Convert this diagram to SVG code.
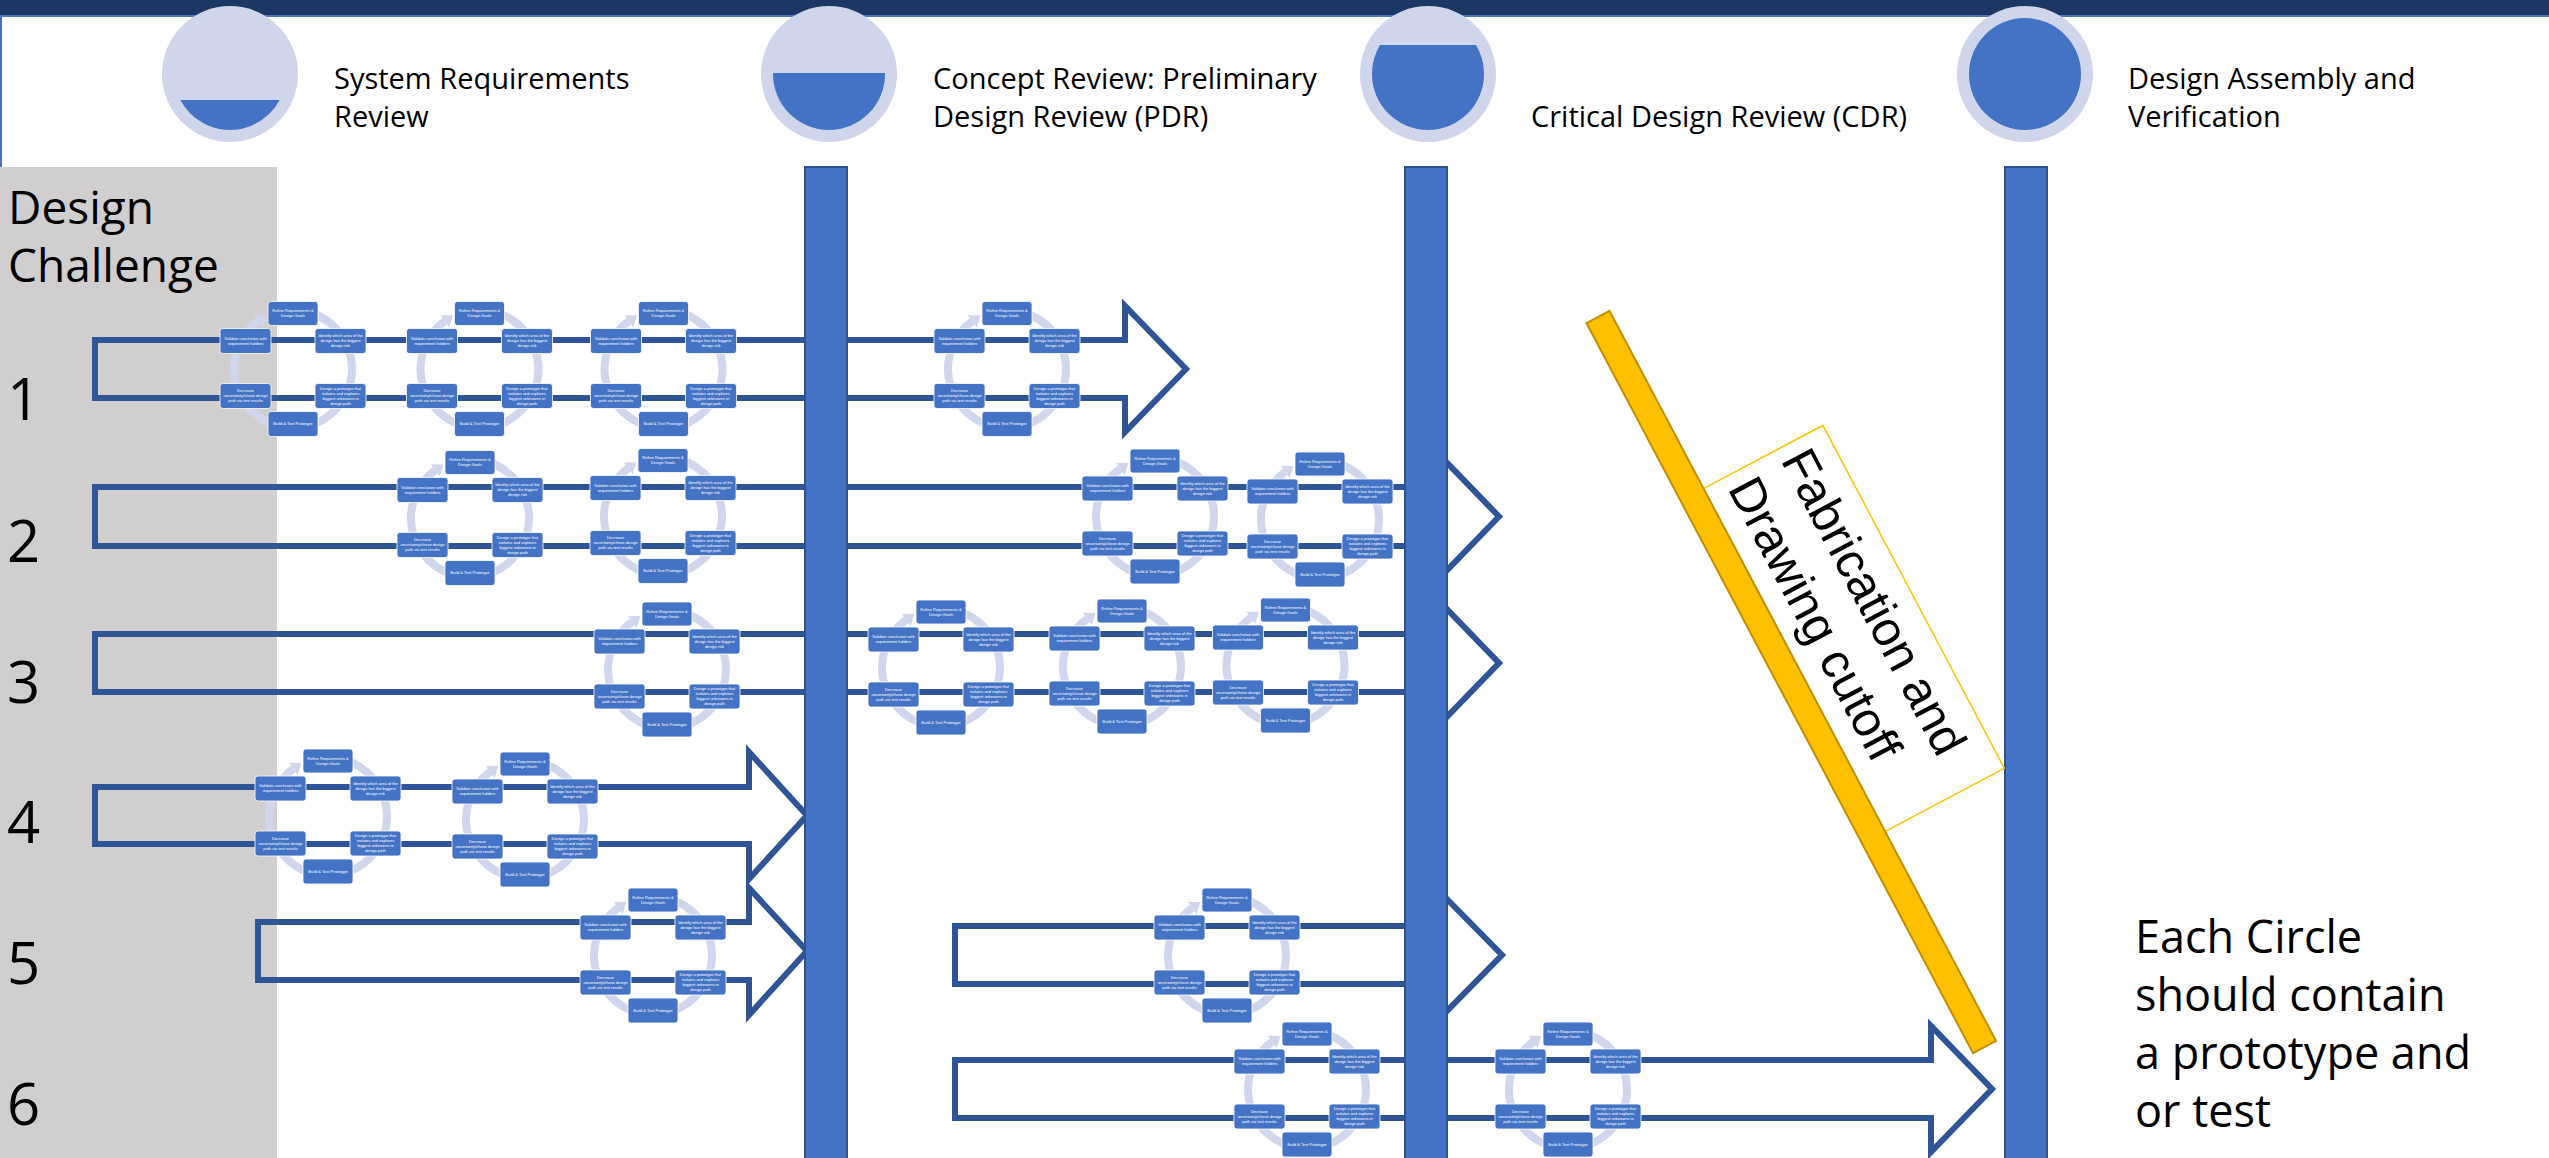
<svg xmlns="http://www.w3.org/2000/svg" xmlns:xlink="http://www.w3.org/1999/xlink" width="2549" height="1158" viewBox="0 0 2549 1158">
  <style>
    .lbl { font-family: "Open Sans", "Noto Sans", "Liberation Sans", sans-serif; fill: #000; font-weight: 400; }
    .hdr { font-size: 29px; }
    .big { font-size: 46px; }
    .num { font-size: 58px; }
    .note { font-size: 45px; }
    .flow { fill: none; stroke: #2f5597; stroke-width: 6; stroke-linejoin: miter; }
    .gate { fill: #4472c4; stroke: #2f528f; stroke-width: 2; }
    .ring { fill: none; stroke: #d0d6eb; stroke-width: 8; }
    .ringhead { fill: #d0d6eb; }
    .box { fill: #4472c4; stroke: #ffffff; stroke-width: 0.8; }
    .bt { font-family: "Liberation Sans", Arial, sans-serif; font-size: 4px; fill: #ffffff; text-anchor: middle; }
    .ms-outer { fill: #cfd5ea; }
    .ms-inner { fill: #4472c4; }
  </style>
  <defs>
    <!-- one design iteration loop: ring with six steps -->
    <g id="cycle">
      <path class="ring" d="M -8.2 -58.4 A 59 59 0 1 1 -34.7 -47.7"/>
      <polygon class="ringhead" points="-39.1,-53.8 -30.3,-41.6 -26.6,-53.6"/>
      <rect class="box" x="-25" y="-67.5" width="50" height="24" rx="3"/>
      <text class="bt"><tspan x="0" y="-56.6">Refine Requirements &amp;</tspan><tspan x="0" y="-51.6">Design Goals</tspan></text>
      <rect class="box" x="22" y="-40.5" width="51" height="25" rx="3"/>
      <text class="bt"><tspan x="47.5" y="-31.6">Identify which area of the</tspan><tspan x="47.5" y="-26.6">design has the biggest</tspan><tspan x="47.5" y="-21.6">design risk</tspan></text>
      <rect class="box" x="22" y="14.5" width="51" height="25" rx="3"/>
      <text class="bt"><tspan x="47.5" y="20.9">Design a prototype that</tspan><tspan x="47.5" y="25.9">isolates and explores</tspan><tspan x="47.5" y="30.9">biggest unknowns in</tspan><tspan x="47.5" y="35.9">design path</tspan></text>
      <rect class="box" x="-25" y="42.5" width="50" height="25" rx="3"/>
      <text class="bt"><tspan x="0" y="56.4">Build &amp; Test Prototype</tspan></text>
      <rect class="box" x="-73" y="14.5" width="51" height="25" rx="3"/>
      <text class="bt"><tspan x="-47.5" y="23.4">Decrease</tspan><tspan x="-47.5" y="28.4">uncertainty/chose design</tspan><tspan x="-47.5" y="33.4">path via test results</tspan></text>
      <rect class="box" x="-73" y="-40.5" width="51" height="25" rx="3"/>
      <text class="bt"><tspan x="-47.5" y="-29.1">Validate conclusion with</tspan><tspan x="-47.5" y="-24.1">requirement holders</tspan></text>
    </g>
    <clipPath id="fill1"><rect x="150" y="100" width="160" height="60"/></clipPath>
    <clipPath id="fill2"><rect x="750" y="73" width="160" height="90"/></clipPath>
    <clipPath id="fill3"><rect x="1350" y="45" width="160" height="120"/></clipPath>
  </defs>

  <rect x="0" y="0" width="2549" height="1158" fill="#ffffff"/>

  <!-- top band -->
  <rect x="0" y="0" width="2549" height="15" fill="#1c3763"/>
  <rect x="0" y="15" width="2549" height="2" fill="#4f76bd"/>
  <rect x="0" y="15" width="2" height="152" fill="#4472c4"/>

  <!-- left label column -->
  <g id="challenge-column">
    <rect x="0" y="167" width="277" height="991" fill="#d0cece"/>
    <text class="lbl big" x="8" y="224">Design</text>
    <text class="lbl big" x="8" y="282">Challenge</text>
    <text class="lbl num" x="7" y="420">1</text>
    <text class="lbl num" x="7" y="562">2</text>
    <text class="lbl num" x="7" y="703">3</text>
    <text class="lbl num" x="7" y="843">4</text>
    <text class="lbl num" x="7" y="984">5</text>
    <text class="lbl num" x="7" y="1125">6</text>
  </g>

  <!-- progress arrows per design challenge -->
  <g id="connectors">
    <path id="flow-1" class="flow" d="M 1125 340 H 95 V 398 H 1125 V 432 L 1186 369 L 1125 306 Z"/>
    <path id="flow-2" class="flow" d="M 1438 487 H 95 V 546 H 1438 V 579.5 L 1499 516.5 L 1438 453.5 Z"/>
    <path id="flow-3" class="flow" d="M 1438 634 H 95 V 692 H 1438 V 726 L 1499 663 L 1438 600 Z"/>
    <path id="flow-4" class="flow" d="M 749 787 H 95 V 844 H 749 V 879 L 807 815.5 L 749 752 Z"/>
    <path id="flow-5a" class="flow" d="M 749 922 H 258 V 980 H 749 V 1015 L 807 951 L 749 888 Z"/>
    <path id="flow-5b" class="flow" d="M 1440 926 H 955 V 984 H 1440 V 1018 L 1502 955 L 1440 892 Z"/>
    <path id="flow-6" class="flow" d="M 1931 1060 H 955 V 1118 H 1931 V 1152 L 1992 1089 L 1931 1026 Z"/>
  </g>

  <!-- iteration loops -->
  <g id="loop-1a" transform="translate(293,369)"><use href="#cycle"/></g>
  <g id="loop-1b" transform="translate(479.5,369)"><use href="#cycle"/></g>
  <g id="loop-1c" transform="translate(663.5,369)"><use href="#cycle"/></g>
  <g id="loop-1d" transform="translate(1007,369)"><use href="#cycle"/></g>
  <g id="loop-2a" transform="translate(470,518)"><use href="#cycle"/></g>
  <g id="loop-2b" transform="translate(663,516)"><use href="#cycle"/></g>
  <g id="loop-2c" transform="translate(1155,516.5)"><use href="#cycle"/></g>
  <g id="loop-2d" transform="translate(1320,519.5)"><use href="#cycle"/></g>
  <g id="loop-3a" transform="translate(667,669.5)"><use href="#cycle"/></g>
  <g id="loop-3b" transform="translate(941,667.5)"><use href="#cycle"/></g>
  <g id="loop-3c" transform="translate(1122,666.5)"><use href="#cycle"/></g>
  <g id="loop-3d" transform="translate(1285.5,665.5)"><use href="#cycle"/></g>
  <g id="loop-4a" transform="translate(328,816.5)"><use href="#cycle"/></g>
  <g id="loop-4b" transform="translate(525,819.5)"><use href="#cycle"/></g>
  <g id="loop-5a" transform="translate(653,955.5)"><use href="#cycle"/></g>
  <g id="loop-5b" transform="translate(1227,955.5)"><use href="#cycle"/></g>
  <g id="loop-6a" transform="translate(1307,1089.5)"><use href="#cycle"/></g>
  <g id="loop-6b" transform="translate(1568,1089.5)"><use href="#cycle"/></g>

  <!-- review gates -->
  <rect id="gate-pdr" class="gate" x="805" y="167" width="42" height="1000"/>
  <rect id="gate-cdr" class="gate" x="1405" y="167" width="42" height="1000"/>
  <rect id="gate-final" class="gate" x="2005" y="167" width="42" height="1000"/>

  <!-- fabrication / drawing cutoff -->
  <g id="cutoff" transform="translate(1598,317) rotate(62.1)">
    <rect x="201" y="-148" width="388" height="135" fill="#ffffff" stroke="#ffc000" stroke-width="1.5"/>
    <rect x="0" y="-13" width="826" height="26" fill="#ffc000" stroke="#bf9000" stroke-width="2"/>
    <text font-family="Liberation Sans, Arial, sans-serif" font-size="49" fill="#000">
      <tspan x="212" y="-94">Fabrication and</tspan>
      <tspan x="212" y="-34">Drawing cutoff</tspan>
    </text>
  </g>

  <!-- milestones -->
  <g id="ms-srr">
    <circle class="ms-outer" cx="230" cy="74" r="68"/>
    <circle class="ms-inner" cx="230" cy="74" r="56" clip-path="url(#fill1)"/>
    <text class="lbl hdr" x="334" y="89">System Requirements</text>
    <text class="lbl hdr" x="334" y="127">Review</text>
  </g>
  <g id="ms-pdr">
    <circle class="ms-outer" cx="829" cy="74" r="68"/>
    <circle class="ms-inner" cx="829" cy="74" r="56" clip-path="url(#fill2)"/>
    <text class="lbl hdr" x="933" y="89">Concept Review: Preliminary</text>
    <text class="lbl hdr" x="933" y="127">Design Review (PDR)</text>
  </g>
  <g id="ms-cdr">
    <circle class="ms-outer" cx="1428" cy="74" r="68"/>
    <circle class="ms-inner" cx="1428" cy="74" r="56" clip-path="url(#fill3)"/>
    <text class="lbl hdr" x="1531" y="127">Critical Design Review (CDR)</text>
  </g>
  <g id="ms-dav">
    <circle class="ms-outer" cx="2025" cy="74" r="68"/>
    <circle class="ms-inner" cx="2025" cy="74" r="56"/>
    <text class="lbl hdr" x="2128" y="89">Design Assembly and</text>
    <text class="lbl hdr" x="2128" y="127">Verification</text>
  </g>

  <g id="note">
    <text class="lbl note" x="2135" y="953">Each Circle</text>
    <text class="lbl note" x="2135" y="1011">should contain</text>
    <text class="lbl note" x="2135" y="1069">a prototype and</text>
    <text class="lbl note" x="2135" y="1127">or test</text>
  </g>
</svg>
